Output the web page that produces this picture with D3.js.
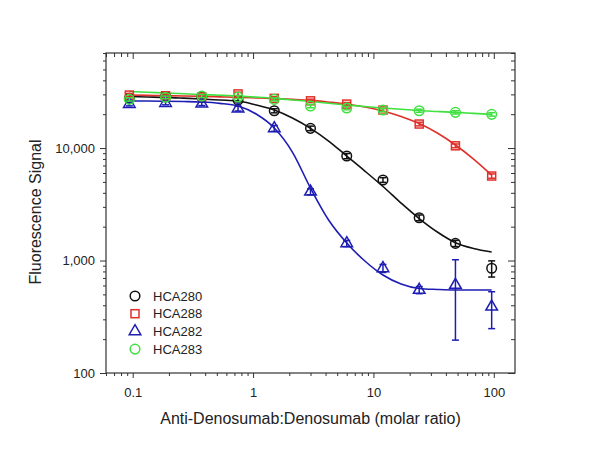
<!DOCTYPE html>
<html>
<head>
<meta charset="utf-8">
<script src="https://cdn.jsdelivr.net/npm/d3@7"></script>
<style>
    body { margin: 0; background: #fff; }
    #chart { width: 600px; height: 450px; }
    text { font-family: "Liberation Sans", Arial, sans-serif; fill: #222; }
    .axis path { display: none; }
    .axis line { stroke: #333; stroke-width: 1; }
</style>
</head>
<body>
<div id="chart"></div>
<script>
// molar ratios (x) shared by every series
const doses = [0.09375, 0.1875, 0.375, 0.75, 1.5, 3, 6, 12, 24, 48, 96];

// measured signal + error (sd) per series
const hca280 = [27660, 28580, 28580, 26710, 21460, 14970, 8490, 5200, 2400, 1420, 853];
const hca280Err = [1100, 1000, 900, 1000, 900, 700, 450, 250, 140, 90, 140];
const hca288 = [29590, 29180, 28440, 30290, 27660, 26300, 24600, 21760, 16350, 10470, 5640];
const hca288Err = [1000, 900, 900, 1100, 900, 900, 800, 700, 600, 400, 250];
const hca282 = [24600, 25120, 24770, 22440, 14970, 4090, 1420, 853, 547, 606, 388];
const hca282Err = [900, 900, 900, 1100, 900, 250, 90, 70, 40, 410, 140];
const hca283 = [27100, 28250, 28990, 28400, 27100, 23620, 22690, 21760, 21460, 20770, 19940];
const hca283Err = [900, 800, 900, 900, 800, 800, 800, 700, 700, 700, 700];

// fitted curves at doses + half steps
const fitDoses = [0.09375, 0.1326, 0.1875, 0.2652, 0.375, 0.5303, 0.75, 1.0607, 1.5, 2.1213, 3,
    4.2426, 6, 8.4853, 12, 16.97, 24, 33.94, 48, 67.88, 96];
const fit280 = [28700, 28460, 28230, 27770, 27260, 26710, 26170, 24110, 21770, 18480, 14970,
    11540, 8490, 6245, 4550, 3245, 2360, 1792, 1440, 1279, 1190];
const fit288 = [29590, 29400, 29230, 29000, 28820, 28520, 28230, 27880, 27540, 27100, 26550,
    25640, 24600, 23140, 21330, 19050, 16510, 13600, 10640, 7985, 5750];
const fit282 = [26170, 26170, 26060, 25900, 25640, 24960, 23620, 20060, 15060, 9215, 4410,
    2291, 1431, 990, 743, 618, 564, 553, 547, 547, 547];
const fit283 = [31780, 31330, 30830, 30390, 29900, 29470, 28990, 28350, 27650, 26770, 25900,
    25010, 24110, 23380, 22680, 22130, 21540, 21150, 20770, 20340, 19940];

// legend / series order
const seriesNames = ['HCA280', 'HCA288', 'HCA282', 'HCA283'];
const seriesColors = ['#111111', '#e0302a', '#1d1db4', '#3fe03f'];
const seriesShapes = ['circle', 'square', 'triangle', 'circle'];

// axis ticks
const xMajor = [0.1, 1, 10, 100];
const yMajor = [100, 1000, 10000];

const series = seriesNames.map((name, i) => ({
    name: name,
    color: seriesColors[i],
    shape: seriesShapes[i],
    values: [hca280, hca288, hca282, hca283][i],
    err: [hca280Err, hca288Err, hca282Err, hca283Err][i],
    fit: [fit280, fit288, fit282, fit283][i]
}));

const root = document.getElementById('chart');
const margin = {t:53, r:85, b:77, l:106};
const w = 600 - margin.l - margin.r;
const h = 450 - margin.t - margin.b;

const svg = d3.select(root)
    .append('svg')
    .attr('width', 600)
    .attr('height', 450);

const plot = svg.append('g')
    .attr('transform', `translate(${margin.l},${margin.t})`);

// scales
const scaleX = d3.scaleLog()
    .domain([0.06, 150])
    .range([0, w]);
const scaleY = d3.scaleLog()
    .domain([100, 70000])
    .range([h, 0]);

// minor ticks: every integer step inside each decade
const minorOf = (lo, hi) => {
    const out = [];
    for (let d = lo; d < hi; d *= 10) {
        for (let k = 2; k <= 9; k++) out.push(d * k);
    }
    return out;
};
const xMinor = minorOf(0.01, 1000).filter(v => v > 0.0599 && v < 150);
const yMinor = minorOf(100, 100000).filter(v => v < 70001);

const fmt = d3.format(',');

// bottom + left axes (ticks outside), top + right mirrored (same direction)
function addAxis(gen, vals, size, labels, tx, ty) {
    const g = plot.append('g')
        .attr('class', 'axis')
        .attr('transform', `translate(${tx},${ty})`)
        .call(gen.tickValues(vals).tickSize(size).tickFormat(labels ? fmt : ''));
    return g;
}

const xb = addAxis(d3.axisBottom(scaleX), xMajor, 5, true, 0, h);
addAxis(d3.axisBottom(scaleX), xMinor, 3, false, 0, h);
addAxis(d3.axisBottom(scaleX), xMajor, 6, false, 0, 0);
addAxis(d3.axisBottom(scaleX), xMinor, 4, false, 0, 0);

const yl = addAxis(d3.axisLeft(scaleY), yMajor, 6, true, 0, 0);
addAxis(d3.axisLeft(scaleY), yMinor, 3, false, 0, 0);
addAxis(d3.axisLeft(scaleY), yMajor, 7, false, w, 0);
addAxis(d3.axisLeft(scaleY), yMinor, 4, false, w, 0);

xb.selectAll('text')
    .attr('font-size', 13)
    .attr('dy', '1.2em');
yl.selectAll('text')
    .attr('font-size', 13)
    .attr('dx', '-0.15em');

// frame
plot.append('rect')
    .attr('width', w)
    .attr('height', h)
    .attr('fill', 'none')
    .attr('stroke', '#333')
    .attr('stroke-width', 1.2);

// fitted curves
const line = d3.line()
    .x(d => scaleX(d[0]))
    .y(d => scaleY(d[1]))
    .curve(d3.curveMonotoneX);

series.forEach(s => {
    plot.append('path')
        .datum(fitDoses.map((x, i) => [x, s.fit[i]]))
        .attr('fill', 'none')
        .attr('stroke', s.color)
        .attr('stroke-width', 1.6)
        .attr('d', line);
});

// markers
function drawMarker(g, shape, color) {
    if (shape === 'circle') {
        g.append('circle').attr('r', 4.8);
    } else if (shape === 'square') {
        g.append('rect').attr('x', -4).attr('y', -4).attr('width', 8).attr('height', 8);
    } else {
        g.append('path').attr('d', d3.symbol(d3.symbolTriangle, 58)());
    }
    g.selectAll('circle,rect,path')
        .attr('fill', 'none')
        .attr('stroke', color)
        .attr('stroke-width', 1.5);
}

series.forEach(s => {
    const pts = plot.append('g');
    doses.forEach((x, i) => {
        const cx = scaleX(x);
        const v = s.values[i];
        const e = s.err[i];
        const yTop = scaleY(v + e);
        const yBot = scaleY(Math.max(v - e, 101));
        // error bar
        const eb = pts.append('g')
            .attr('stroke', s.color)
            .attr('stroke-width', 1.5);
        eb.append('line').attr('x1', cx).attr('x2', cx).attr('y1', yTop).attr('y2', yBot);
        eb.append('line').attr('x1', cx - 3.5).attr('x2', cx + 3.5).attr('y1', yTop).attr('y2', yTop);
        eb.append('line').attr('x1', cx - 3.5).attr('x2', cx + 3.5).attr('y1', yBot).attr('y2', yBot);

        const m = pts.append('g')
            .attr('transform', `translate(${cx},${scaleY(v)})`);
        drawMarker(m, s.shape, s.color);
    });
});

// legend
const legend = plot.append('g')
    .attr('transform', `translate(29,243)`);
series.forEach((s, i) => {
    const row = legend.append('g')
        .attr('transform', `translate(0,${i * 17.7})`);
    drawMarker(row.append('g'), s.shape, s.color);
    row.append('text')
        .attr('x', 18)
        .attr('dy', '0.35em')
        .attr('font-size', 13)
        .text(s.name);
});

// axis titles
svg.append('text')
    .attr('x', margin.l + w / 2)
    .attr('y', 424)
    .attr('text-anchor', 'middle')
    .attr('font-size', 16)
    .text('Anti-Denosumab:Denosumab (molar ratio)');

svg.append('text')
    .attr('transform', 'translate(41,212) rotate(-90)')
    .attr('text-anchor', 'middle')
    .attr('font-size', 16)
    .text('Fluorescence Signal');
</script>
</body>
</html>
